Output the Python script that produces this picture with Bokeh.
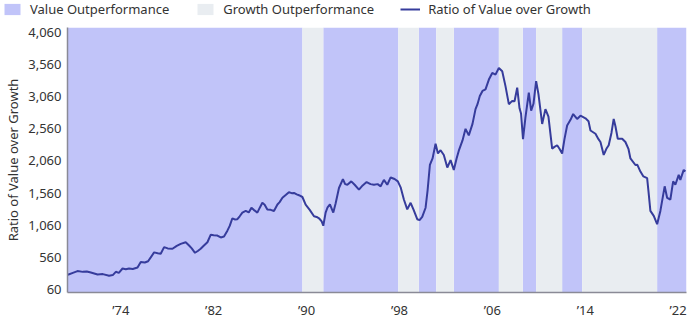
from bokeh.plotting import figure
from bokeh.layouts import column, row
from bokeh.models import (FixedTicker, NumeralTickFormatter, Legend, LegendItem, Range1d)
from bokeh.embed import file_html
from bokeh.resources import INLINE

# ---- data ----
years = [1969.44, 1969.87, 1970.27, 1970.73, 1971.07, 1971.42, 1972.00, 1972.45, 1972.99, 1973.31,
         1973.57, 1973.83, 1974.15, 1974.43, 1974.71, 1975.03, 1975.44, 1975.72, 1976.07, 1976.35,
         1976.58, 1976.87, 1977.18, 1977.44, 1977.73, 1978.04, 1978.45, 1978.82, 1979.16, 1979.59,
         1979.88, 1980.11, 1980.39, 1980.63, 1980.88, 1981.14, 1981.46, 1981.75, 1982.00, 1982.32,
         1982.61, 1982.89, 1983.18, 1983.38, 1983.61, 1983.81, 1984.04, 1984.24, 1984.47, 1984.76,
         1985.02, 1985.25, 1985.45, 1985.76, 1985.96, 1986.19, 1986.39, 1986.62, 1986.91, 1987.19,
         1987.49, 1987.68, 1987.92, 1988.20, 1988.48, 1988.72, 1988.91, 1989.15, 1989.34, 1989.64,
         1989.92, 1990.27, 1990.64, 1990.87, 1991.07, 1991.30, 1991.44, 1991.64, 1991.81, 1992.01,
         1992.30, 1992.50, 1992.79, 1993.13, 1993.32, 1993.51, 1993.85, 1994.14, 1994.51, 1994.83,
         1995.17, 1995.51, 1995.80, 1996.12, 1996.38, 1996.66, 1996.95, 1997.24, 1997.58, 1997.86,
         1998.10, 1998.38, 1998.67, 1998.96, 1999.22, 1999.53, 1999.73, 1999.96, 2000.25, 2000.42,
         2000.62, 2000.85, 2001.11, 2001.31, 2001.54, 2001.82, 2002.12, 2002.40, 2002.68, 2002.92,
         2003.11, 2003.43, 2003.69, 2003.97, 2004.29, 2004.55, 2004.72, 2004.92, 2005.15, 2005.41,
         2005.70, 2005.99, 2006.27, 2006.56, 2006.85, 2007.13, 2007.42, 2007.71, 2007.91, 2008.14,
         2008.34, 2008.47, 2008.64, 2008.85, 2009.14, 2009.34, 2009.54, 2009.77, 2009.97, 2010.29,
         2010.57, 2010.83, 2011.15, 2011.35, 2011.58, 2011.78, 2012.01, 2012.21, 2012.44, 2012.73,
         2012.96, 2013.30, 2013.59, 2014.02, 2014.28, 2014.45, 2014.88, 2015.14, 2015.31, 2015.59,
         2015.82, 2016.02, 2016.26, 2016.45, 2016.60, 2016.80, 2017.18, 2017.46, 2017.72, 2017.89,
         2018.32, 2018.49, 2018.75, 2019.01, 2019.33, 2019.44, 2019.61, 2019.90, 2020.19, 2020.47,
         2020.84, 2021.05, 2021.33, 2021.57, 2021.76, 2022.05, 2022.19, 2022.48, 2022.62]
ratio = [290, 320, 347, 335, 340, 325, 295, 300, 275, 285,
         336, 320, 387, 375, 387, 380, 402, 490, 480, 500,
         560, 638, 625, 617, 720, 700, 694, 740, 770, 796,
         745, 700, 632, 660, 694, 740, 796, 914, 905, 899,
         870, 884, 976, 1050, 1169, 1150, 1154, 1200, 1257, 1283,
         1260, 1333, 1300, 1257, 1330, 1410, 1380, 1307, 1300, 1283,
         1384, 1420, 1487, 1530, 1574, 1560, 1563, 1540, 1528, 1500,
         1380, 1300, 1200, 1190, 1169, 1120, 1053, 1257, 1340, 1384,
         1257, 1400, 1640, 1778, 1700, 1691, 1743, 1690, 1615, 1680,
         1732, 1700, 1691, 1700, 1666, 1767, 1691, 1804, 1780, 1743,
         1650, 1461, 1307, 1410, 1300, 1154, 1140, 1191, 1333, 1600,
         1998, 2100, 2330, 2177, 2228, 2154, 1958, 2074, 1921, 2100,
         2220, 2380, 2560, 2458, 2637, 2867, 2944, 3071, 3150, 3174,
         3327, 3430, 3404, 3506, 3455, 3225, 2944, 2995, 2990, 3200,
         2880, 2800, 2400, 2740, 3123, 2842, 2950, 3302, 3100, 2637,
         2867, 2750, 2253, 2280, 2305, 2250, 2177, 2400, 2612, 2700,
         2791, 2714, 2765, 2724, 2680, 2534, 2484, 2400, 2356, 2154,
         2250, 2305, 2500, 2714, 2600, 2407, 2407, 2356, 2250, 2100,
         1998, 2000, 1896, 1820, 1793, 1600, 1283, 1206, 1077, 1283,
         1666, 1487, 1461, 1743, 1691, 1844, 1767, 1921, 1896]

value_start = [1969.41, 1991.44, 1999.67, 2002.68, 2008.62, 2012.01, 2020.19]
value_end = [1989.64, 1997.90, 2001.17, 2006.56, 2009.77, 2013.73, 2022.72]
growth_start = [1989.64, 1997.90, 2001.17, 2006.56, 2009.77, 2013.73]
growth_end = [1991.44, 1999.67, 2002.68, 2008.62, 2012.01, 2020.19]

x_ticks = [1974, 1982, 1990, 1998, 2006, 2014, 2022]
x_tick_labels = ["\u201974", "\u201982", "\u201990", "\u201998", "\u201906", "\u201914", "\u201922"]
y_ticks = [60, 560, 1060, 1560, 2060, 2560, 3060, 3560, 4060]

# ---- styling ----
FONT = "Noto Sans"
TEXT = "#333333"
VALUE_FILL = "#c1c4f9"
GROWTH_FILL = "#e9edf1"
LINE = "#363c9c"
X0, X1 = 1969.41, 2022.72
Y0, Y1 = 14, 4137

# ---- main chart ----
p = figure(width=690, height=301, output_backend="svg", toolbar_location=None,
           x_range=Range1d(X0, X1), y_range=Range1d(Y0, Y1),
           min_border_left=67, min_border_right=4, min_border_top=7, min_border_bottom=25)
p.outline_line_color = None
p.xgrid.grid_line_color = None
p.ygrid.grid_line_color = None
p.background_fill_color = "white"

p.quad(left=value_start, right=value_end, bottom=Y0, top=Y1,
       fill_color=VALUE_FILL, line_color=None)
p.quad(left=growth_start, right=growth_end, bottom=Y0, top=Y1,
       fill_color=GROWTH_FILL, line_color=None)
p.line(years, ratio, line_color=LINE, line_width=2)

p.xaxis.ticker = FixedTicker(ticks=x_ticks)
p.xaxis.major_label_overrides = {t: l for t, l in zip(x_ticks, x_tick_labels)}
p.yaxis.ticker = FixedTicker(ticks=y_ticks)
p.yaxis.formatter = NumeralTickFormatter(format="0,0")
p.yaxis.axis_label = "Ratio of Value over Growth"

for ax in (p.xaxis, p.yaxis):
    ax.axis_line_color = "#8a8a96"
    ax.axis_line_width = 1.5
    ax.major_tick_line_color = None
    ax.minor_tick_line_color = None
    ax.major_tick_out = 0
    ax.major_tick_in = 0
    ax.major_label_text_font = FONT
    ax.major_label_text_font_size = "13px"
    ax.major_label_text_color = TEXT
    ax.axis_label_text_font = FONT
    ax.axis_label_text_font_size = "13px"
    ax.axis_label_text_font_style = "normal"
    ax.axis_label_text_color = TEXT
p.xaxis.major_label_standoff = 8
p.yaxis.major_label_standoff = 6
p.yaxis.axis_label_standoff = 3

# ---- legend strip (same series, drawn off-view so only the legend shows) ----
lg = figure(width=690, height=20, output_backend="svg", toolbar_location=None,
            x_range=Range1d(0, 1), y_range=Range1d(0, 1),
            x_axis_location=None, y_axis_location=None,
            min_border_left=0, min_border_right=0, min_border_top=0, min_border_bottom=0)
lg.outline_line_color = None
lg.grid.visible = False
rv = lg.quad(left=value_start, right=value_end, bottom=Y0, top=Y1,
             fill_color=VALUE_FILL, line_color=None)
rg = lg.quad(left=growth_start, right=growth_end, bottom=Y0, top=Y1,
             fill_color=GROWTH_FILL, line_color=None)
rl = lg.line(years, ratio, line_color=LINE, line_width=2)
legend = Legend(items=[LegendItem(label="Value Outperformance", renderers=[rv]),
                       LegendItem(label="Growth Outperformance", renderers=[rg]),
                       LegendItem(label="Ratio of Value over Growth", renderers=[rl])],
                orientation="horizontal", location=(2, 2),
                glyph_width=20, glyph_height=14, label_standoff=8, spacing=26,
                padding=2, margin=0, border_line_color=None, background_fill_alpha=0,
                label_text_font=FONT, label_text_font_size="13px", label_text_color=TEXT)
lg.add_layout(legend, "center")

layout = column(row(lg, spacing=0), p, spacing=0)
open("out.html", "w").write(file_html(layout, INLINE))
